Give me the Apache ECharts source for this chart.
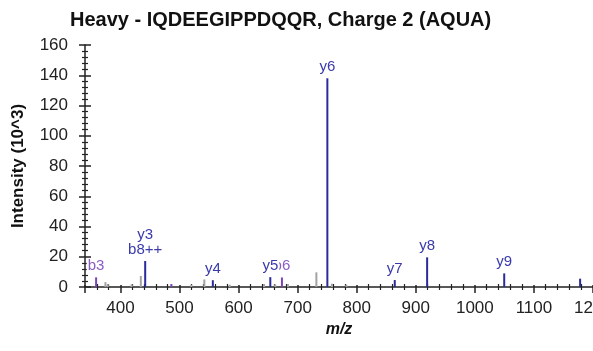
<!DOCTYPE html>
<html>
<head>
<meta charset="utf-8">
<script src="https://cdn.jsdelivr.net/npm/echarts@6/dist/echarts.min.js"></script>
<style>
  html, body { margin: 0; padding: 0; background: #fff; }
  #chart { width: 593px; height: 351px; }
</style>
</head>
<body>
<div id="chart"></div>
<script>
// Annotated fragment ions (y series, blue)
const yIonMz = [441.9, 556.4, 653.7, 750.3, 864.4, 919.2, 1049.7, 1178.2];
const yIonIntensity = [17.2, 4.5, 6.5, 138, 4.6, 19.6, 9.0, 5.5];
const yIonLabels = ['y3\nb8++', 'y4', 'y5', 'y6', 'y7', 'y8', 'y9', ''];

// Annotated fragment ions (b series, purple)
const bIonMz = [358.8, 486.2, 673.4];
const bIonIntensity = [6.4, 2.0, 6.3];
const bIonLabels = ['b3', '', 'b6'];

// Unassigned peaks (grey)
const otherMz = [374.6, 378.5, 419.0, 434.5, 520.0, 542.0, 585.0, 643.0, 662.0, 683.5, 731.7, 758.0, 782.5];
const otherIntensity = [3.2, 2.0, 1.8, 7.3, 1.5, 5.0, 1.5, 2.0, 1.8, 2.0, 9.7, 2.2, 1.5];

// Axis ranges
const mzMin = 340, mzMax = 1200;
const intensityMax = 160, intensityStep = 20;

const FONT = '"Liberation Sans", Arial, sans-serif';

function pairs(xs, ys) { return xs.map((x, i) => [x, ys[i]]); }

const chart = echarts.init(document.getElementById('chart'), null, { renderer: 'canvas' });

const baseX = {
  type: 'value', min: mzMin, max: mzMax, splitNumber: 9, gridIndex: 0, position: 'bottom',
  splitLine: { show: false }
};
const baseY = {
  type: 'value', min: 0, max: intensityMax, interval: intensityStep, gridIndex: 0, position: 'left',
  splitLine: { show: false }
};

function ionLabel(color, labels) {
  return {
    show: true,
    position: 'top',
    distance: 4,
    color: color,
    fontFamily: FONT,
    fontSize: 15,
    lineHeight: 15,
    backgroundColor: '#fff',
    padding: [0, 1],
    formatter: p => labels[p.dataIndex]
  };
}

chart.setOption({
  animation: false,
  backgroundColor: '#fff',
  title: {
    text: 'Heavy - IQDEEGIPPDQQR, Charge 2 (AQUA)',
    left: 65, top: 5,
    textStyle: { fontFamily: FONT, fontSize: 20, fontWeight: 'bold', color: '#111' }
  },
  grid: { left: 85, right: 0, top: 45, bottom: 64, outerBoundsMode: 'none', containLabel: false },
  xAxis: [
    Object.assign({}, baseX, {
      name: 'm/z',
      nameLocation: 'middle',
      nameGap: 35,
      nameTextStyle: { fontFamily: FONT, fontSize: 16, fontWeight: 'bold', fontStyle: 'italic', color: '#111' },
      axisLine: { show: true, onZero: false, lineStyle: { color: '#222', width: 1.5 } },
      axisTick: { show: true, inside: false, length: 6, lineStyle: { color: '#222', width: 1.5 } },
      minorTick: { show: true, splitNumber: 5, length: 3, lineStyle: { color: '#222', width: 1.2 } },
      axisLabel: {
        show: true, margin: 13, showMinLabel: false, showMaxLabel: true,
        fontFamily: FONT, fontSize: 17, color: '#222',
        formatter: v => String(v)
      }
    }),
    Object.assign({}, baseX, {
      axisLine: { show: false },
      axisTick: { show: true, inside: true, length: 2, lineStyle: { color: '#222', width: 1.5 } },
      minorTick: { show: true, splitNumber: 5, length: 3, lineStyle: { color: '#222', width: 1.2 } },
      axisLabel: { show: false }
    })
  ],
  yAxis: [
    Object.assign({}, baseY, {
      name: 'Intensity (10^3)',
      nameLocation: 'middle',
      nameRotate: 90,
      nameGap: 58,
      nameTextStyle: { fontFamily: FONT, fontSize: 17, fontWeight: 'bold', color: '#111' },
      axisLine: { show: true, onZero: false, lineStyle: { color: '#222', width: 1.5 } },
      axisTick: { show: true, inside: false, length: 6, lineStyle: { color: '#222', width: 1.5 } },
      minorTick: { show: true, splitNumber: 5, length: 3, lineStyle: { color: '#222', width: 1.2 } },
      axisLabel: { show: true, margin: 17, fontFamily: FONT, fontSize: 17, color: '#222' }
    }),
    Object.assign({}, baseY, {
      axisLine: { show: false },
      axisTick: { show: true, inside: true, length: 6, lineStyle: { color: '#222', width: 1.5 } },
      minorTick: { show: true, splitNumber: 5, length: 3, lineStyle: { color: '#222', width: 1.2 } },
      axisLabel: { show: false }
    })
  ],
  series: [
    {
      name: 'unassigned', type: 'bar', xAxisIndex: 0, yAxisIndex: 0,
      barWidth: 2, barGap: '-100%', z: 2,
      itemStyle: { color: '#a3a3a3' },
      data: pairs(otherMz, otherIntensity)
    },
    {
      name: 'b ions', type: 'bar', xAxisIndex: 0, yAxisIndex: 0,
      barWidth: 2, barGap: '-100%', z: 3,
      itemStyle: { color: '#7a45b8' },
      label: ionLabel('#8a5cc6', bIonLabels),
      data: pairs(bIonMz, bIonIntensity)
    },
    {
      name: 'y ions', type: 'bar', xAxisIndex: 0, yAxisIndex: 0,
      barWidth: 2, barGap: '-100%', z: 4,
      itemStyle: { color: '#2a2a9c' },
      label: ionLabel('#3a3aac', yIonLabels),
      data: pairs(yIonMz, yIonIntensity)
    }
  ]
});
</script>
</body>
</html>
